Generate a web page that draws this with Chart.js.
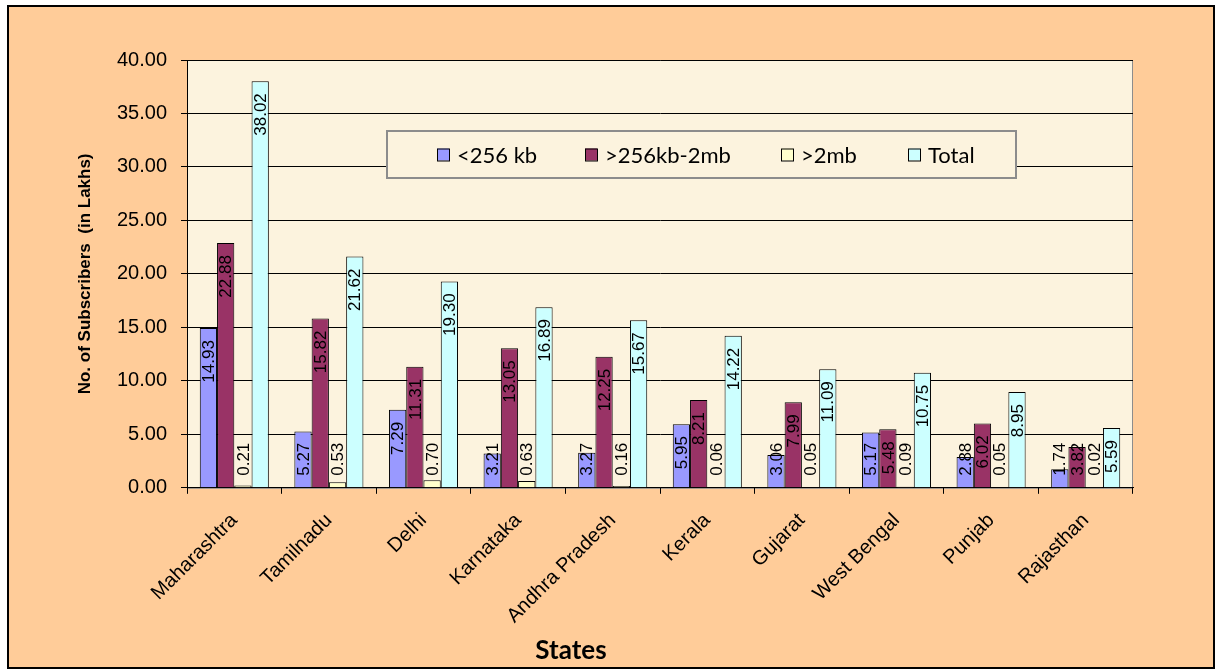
<!DOCTYPE html>
<html>
<head>
<meta charset="utf-8">
<script src="https://cdn.jsdelivr.net/npm/chart.js@4.4.1/dist/chart.umd.min.js"></script>
<style>
	body { margin: 0; background: #ffffff; }
	#frame {
		position: absolute;
		left: 7px;
		top: 5px;
		width: 1204px;
		height: 660px;
		border: 2px solid #000000;
		background: #ffcc99;
	}
	#frame canvas { display: block; }
</style>
</head>
<body>
<div id="frame"><canvas id="subsChart" width="1204" height="660"></canvas></div>
<script>
const states = [
	"Maharashtra",
	"Tamilnadu",
	"Delhi",
	"Karnataka",
	"Andhra Pradesh",
	"Kerala",
	"Gujarat",
	"West Bengal",
	"Punjab",
	"Rajasthan",
];
const seriesNames = ["<256 kb", ">256kb-2mb", ">2mb", "Total"];
const below256 = [14.93, 5.27, 7.29, 3.21, 3.27, 5.95, 3.06, 5.17, 2.88, 1.74];
const mid256to2 = [22.88, 15.82, 11.31, 13.05, 12.25, 8.21, 7.99, 5.48, 6.02, 3.82];
const above2mb = [0.21, 0.53, 0.7, 0.63, 0.16, 0.06, 0.05, 0.09, 0.05, 0.02];
const totals = [38.02, 21.62, 19.3, 16.89, 15.67, 14.22, 11.09, 10.75, 8.95, 5.59];

const colors = ["#9999ff", "#993366", "#ffffcc", "#ccffff"];
const seriesValues = [below256, mid256to2, above2mb, totals];

// plot area fill + thin grey frame
const plotBg = {
	id: "plotBg",
	beforeDraw(chart) {
		const { ctx, chartArea: a } = chart;
		ctx.save();
		ctx.fillStyle = "#fcf3de";
		ctx.fillRect(a.left, a.top, a.right - a.left, a.bottom - a.top);
		ctx.strokeStyle = "#8c8c8c";
		ctx.lineWidth = 1;
		ctx.strokeRect(a.left + 0.5, a.top + 0.5, a.right - a.left - 1, a.bottom - a.top);
		ctx.restore();
	},
};

// vertical value labels, excel "inside end" style
const barLabels = {
	id: "barLabels",
	afterDatasetsDraw(chart) {
		const { ctx, chartArea } = chart;
		const pad = 12;
		ctx.save();
		ctx.font = "17px 'Liberation Sans', Arial, sans-serif";
		ctx.fillStyle = "#000000";
		ctx.textBaseline = "middle";
		ctx.textAlign = "left";
		chart.data.datasets.forEach((ds, i) => {
			chart.getDatasetMeta(i).data.forEach((bar, j) => {
				const txt = ds.data[j].toFixed(2);
				const w = ctx.measureText(txt).width;
				let top = bar.y + pad;
				if (top + w > chartArea.bottom - pad) top = chartArea.bottom - pad - w;
				ctx.save();
				ctx.translate(bar.x, top + w);
				ctx.rotate(-Math.PI / 2);
				ctx.fillText(txt, 0, 1);
				ctx.restore();
			});
		});
		ctx.restore();
	},
};

// legend box sitting inside the plot area
const boxLegend = {
	id: "boxLegend",
	afterDatasetsDraw(chart) {
		const { ctx, chartArea: a } = chart;
		const x = a.left + 200;
		const y = a.top + 71;
		const w = 629;
		const h = 47;
		const itemX = [50, 198, 394, 521];
		ctx.save();
		ctx.fillStyle = "#fcf3de";
		ctx.fillRect(x, y, w, h);
		ctx.strokeStyle = "#8c8c8c";
		ctx.lineWidth = 2;
		ctx.strokeRect(x, y, w, h);
		ctx.font = "22px Lato, 'Open Sans', sans-serif";
		ctx.textBaseline = "middle";
		ctx.textAlign = "left";
		chart.data.datasets.forEach((ds, i) => {
			const sx = x + itemX[i];
			const cy = y + h / 2;
			ctx.fillStyle = ds.backgroundColor;
			ctx.fillRect(sx, cy - 6, 12, 12);
			ctx.strokeStyle = "#000000";
			ctx.lineWidth = 1;
			ctx.strokeRect(sx + 0.5, cy - 5.5, 12, 12);
			ctx.fillStyle = "#000000";
			ctx.fillText(ds.label, sx + 20, cy + 1);
		});
		ctx.restore();
	},
};

const data = {
	labels: states,
	datasets: seriesNames.map((name, i) => ({
		label: name,
		data: seriesValues[i],
		backgroundColor: colors[i],
		borderColor: "#000000",
		borderWidth: 1,
		categoryPercentage: 0.73,
		barPercentage: 1.0,
	})),
};

const config = {
	type: "bar",
	data: data,
	options: {
		responsive: false,
		animation: false,
		layout: {
			padding: { top: 53, right: 80, left: 0, bottom: 0 },
		},
		plugins: {
			legend: { display: false },
			tooltip: { enabled: false },
			title: {
				display: true,
				text: "States",
				position: "bottom",
				color: "#000000",
				font: { family: "Lato, 'Open Sans', sans-serif", size: 26, weight: "bold" },
				padding: { top: 8, bottom: 1 },
			},
		},
		scales: {
			x: {
				grid: {
					offset: true,
					drawOnChartArea: false,
					drawTicks: true,
					tickLength: 6,
					tickColor: "#000000",
					color: "#000000",
				},
				border: { color: "#000000", width: 1 },
				ticks: {
					color: "#000000",
					font: { family: "'Liberation Sans', Arial, sans-serif", size: 20 },
					minRotation: 45,
					maxRotation: 45,
					padding: 15,
					autoSkip: false,
				},
				afterFit(scale) {
					scale.height = 139;
				},
			},
			y: {
				min: 0,
				max: 40,
				ticks: {
					stepSize: 5,
					color: "#000000",
					font: { family: "'Liberation Sans', Arial, sans-serif", size: 20 },
					padding: 14,
					callback: (v) => v.toFixed(2),
				},
				grid: {
					color: "#000000",
					lineWidth: 1,
					tickLength: 6,
					tickColor: "#000000",
				},
				border: { color: "#000000", width: 1 },
				title: {
					display: true,
					text: "No. of Subscribers  (in Lakhs)",
					color: "#000000",
					font: { family: "'Liberation Sans', Arial, sans-serif", size: 17, weight: "bold" },
					padding: { top: 66, bottom: 0 },
				},
				afterFit(scale) {
					scale.width = 178;
				},
			},
		},
	},
	plugins: [plotBg, barLabels, boxLegend],
};

const subsChart = new Chart(document.getElementById("subsChart"), config);
</script>
</body>
</html>
